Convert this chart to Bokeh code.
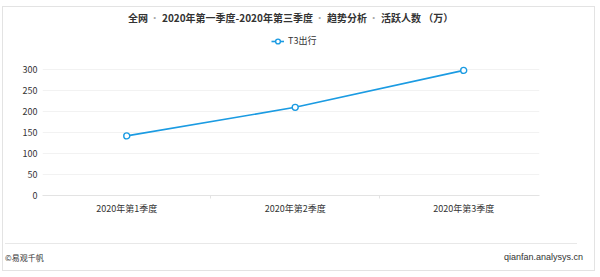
from bokeh.plotting import figure
from bokeh.models import Range1d, FixedTicker, Legend, LegendItem, Div, InlineStyleSheet
from bokeh.layouts import column
from bokeh.embed import file_html
from bokeh.resources import INLINE

# ---- data ----
categories = ["2020年第1季度", "2020年第2季度", "2020年第3季度"]
series_name = "T3出行"
values = [142, 210, 298]
y_ticks = [0, 50, 100, 150, 200, 250, 300]
title_parts = ["全网", "2020年第一季度-2020年第三季度", "趋势分析", "活跃人数 （万）"]
footer_left = "©易观千帆"
footer_right = "qianfan.analysys.cn"

FONT = "Noto Sans CJK SC"
BLUE = "#1b9be2"
TEXT = "#333333"

x = list(range(len(categories)))

# ---- header (title) ----
sep = ('<span style="color:#a8a8a8;font-weight:bold;font-family:\'Liberation Sans\';'
       'font-size:12px;margin:0 5px;">·</span>')
title_html = sep.join(title_parts)
header = Div(width=600, height=30, margin=0, text=(
    f'<div style="padding-left:128px;padding-top:11px;white-space:nowrap;'
    f'font-family:\'{FONT}\';font-size:10px;font-weight:bold;color:{TEXT};line-height:14px;">'
    f'{title_html}</div>'))

# ---- chart ----
p = figure(width=600, height=210, output_backend="svg", toolbar_location=None,
           x_range=Range1d(-0.5, 2.45), y_range=Range1d(0, 393), margin=0,
           min_border_left=42, min_border_right=61, min_border_top=0, min_border_bottom=45)
p.outline_line_color = None
p.background_fill_color = "white"
p.border_fill_color = "white"

p.xaxis.ticker = FixedTicker(ticks=x, minor_ticks=[0.5, 1.5])
p.xaxis.major_label_overrides = {i: c for i, c in enumerate(categories)}
p.xaxis.axis_line_color = "#e3e3e3"
p.xaxis.major_tick_line_color = None
p.xaxis.major_tick_out = 0
p.xaxis.major_tick_in = 0
p.xaxis.minor_tick_line_color = "#e3e3e3"
p.xaxis.minor_tick_in = 0
p.xaxis.minor_tick_out = 3
p.xaxis.major_label_text_font = FONT
p.xaxis.major_label_text_font_size = "9px"
p.xaxis.major_label_text_color = TEXT
p.xaxis.major_label_standoff = 3

p.yaxis.ticker = FixedTicker(ticks=y_ticks)
p.yaxis.axis_line_color = None
p.yaxis.major_tick_line_color = None
p.yaxis.major_tick_out = 0
p.yaxis.major_tick_in = 0
p.yaxis.minor_tick_line_color = None
p.yaxis.major_label_text_font = FONT
p.yaxis.major_label_text_font_size = "9px"
p.yaxis.major_label_text_color = TEXT
p.yaxis.major_label_standoff = 5

p.xgrid.grid_line_color = None
p.ygrid.grid_line_color = "#f2f2f2"
p.ygrid.ticker = FixedTicker(ticks=y_ticks)

ln = p.line(x, values, line_color=BLUE, line_width=1.6)
sc = p.scatter(x, values, size=6, marker="circle", fill_color="white", line_color=BLUE, line_width=1.4)

legend = Legend(items=[LegendItem(label=series_name, renderers=[ln, sc])],
                location=(229, 148), orientation="horizontal",
                glyph_width=13, glyph_height=12, label_height=12, label_standoff=4,
                padding=0, margin=0,
                label_text_font=FONT, label_text_font_size="9px", label_text_color=TEXT,
                border_line_alpha=0, background_fill_alpha=0)
p.add_layout(legend, "center")

# ---- footer ----
footer = Div(width=600, height=37, margin=0, text=(
    f'<div style="margin-left:5px;margin-top:3px;width:572px;height:0;border-top:1px solid #e8e8e8;"></div>'
    f'<div style="display:flex;justify-content:space-between;align-items:center;width:578px;'
    f'margin-left:5px;margin-top:8px;height:11px;font-family:\'{FONT}\';color:{TEXT};white-space:nowrap;">'
    f'<span style="font-size:8px;line-height:11px;">{footer_left}</span>'
    f'<span style="font-size:9px;line-height:11px;font-family:\'Liberation Sans\';">{footer_right}</span></div>'))

border_css = InlineStyleSheet(css=(
    ":host { position: relative; }"
    ":host::after { content: ''; position: absolute; left: 2px; top: 6px; width: 591px; height: 263px;"
    " border: 1px solid #e3e3e3; pointer-events: none; z-index: 100; }"))

layout = column(header, p, footer, spacing=0, margin=0, stylesheets=[border_css])

open("out.html", "w").write(file_html(layout, INLINE))
